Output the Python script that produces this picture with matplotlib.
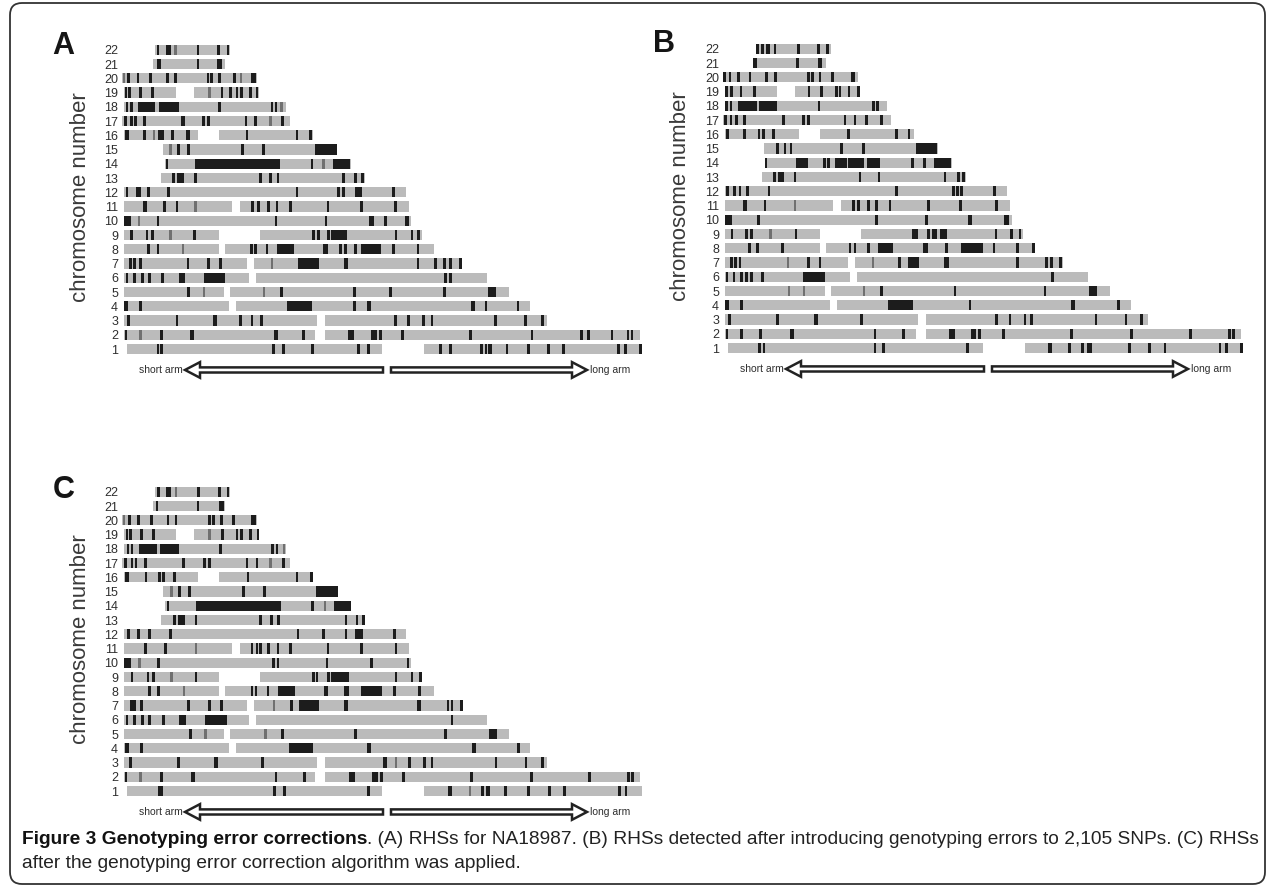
import matplotlib
matplotlib.use("Agg")
import matplotlib.pyplot as plt
from matplotlib.patches import FancyArrow, FancyBboxPatch

W, H = 1273, 888
NARROW = ['Liberation Sans Narrow', 'Liberation Sans', 'DejaVu Sans']
SANS = ['Liberation Sans', 'DejaVu Sans']

CHROMS = list(range(1, 23))

# grey SNP-covered segments per chromosome (position units, ~0.16 Mb each)
GRAY = {
    22: [(100, 325)], 21: [(92, 308)], 20: [(0, 405)], 19: [(5, 162), (215, 412)],
    18: [(5, 492)], 17: [(0, 505)], 16: [(5, 228), (292, 572)], 15: [(122, 645)],
    14: [(130, 688)], 13: [(118, 730)], 12: [(5, 852)], 11: [(5, 330), (355, 862)],
    10: [(5, 868)], 9: [(5, 290), (415, 900)], 8: [(5, 290), (308, 935)],
    7: [(5, 375), (395, 1020)], 6: [(5, 380), (402, 1095)], 5: [(5, 305), (325, 1160)],
    4: [(5, 322), (342, 1225)], 3: [(5, 585), (610, 1275)], 2: [(5, 580), (610, 1555)],
    1: [(15, 780), (905, 1560)],
}

# RHS marks: single number = narrow mark centre, tuple = block (start, end)
MARKS_A = {
    22: [108, (131, 146), 228, 290, 318],
    21: [(104, 116), 228, (284, 300)],
    20: [20, 48, 85, 137, 160, 258, 268, 292, 338, (388, 402)],
    19: [12, 22, 55, 92, 300, 325, 345, 358, 385, 405],
    18: [15, 28, (48, 100), (110, 170), 292, 450, 462],
    17: [10, 28, 40, 68, (176, 188), 245, 260, 372, 400, 482],
    16: [(9, 21), 68, 112, 122, 152, (193, 203), 375, 525, 565],
    15: [170, 200, 362, 425, (580, 645)],
    14: [135, (220, 475), 570, (632, 685)],
    13: [155, (165, 185), 220, 415, 445, 468, 665, 700, 722],
    12: [15, 45, 52, 80, 140, 525, 650, 665, (700, 720), 815],
    11: [(62, 74), 128, 165, 392, 410, 440, 465, 505, 618, 718, 820],
    10: [(5, 28), 108, 462, 612, (741, 755), 790, (850, 860)],
    9: [28, 75, 92, 218, 575, 590, 620, (628, 675), 822, 870, 890],
    8: [80, 108, 388, 400, 435, (465, 515), (603, 617), 655, 670, 700, (718, 778), 815, 888],
    7: [25, 38, 55, 198, 260, 295, (527, 590), (665, 679), 888, 940, 968, 985, 1015],
    6: [15, 38, 62, 82, 122, (170, 190), (245, 310), 970, 985],
    5: [200, 478, 698, 805, 968, (1098, 1122)],
    4: [(6, 18), 55, (495, 570), 698, (734, 746), (1046, 1058), 1092, 1188],
    3: [20, 165, (272, 284), 355, 390, 418, 820, 860, 905, 930, 1120, 1210, 1262],
    2: [12, 118, (204, 216), (456, 468), 545, (679, 697), (746, 764), 775, 842, 1045, 1230,
        1378, 1400, 1470, 1518, 1530],
    1: [108, 118, 455, 485, 572, 710, 740, 955, 985, 1078, 1092, (1099, 1111), 1155, 1220,
        1280, 1325, 1490, 1510, 1555],
}
LIGHT_A = {22: [160], 20: [5, 358], 19: [262], 18: [478], 17: [445], 16: [95], 15: [145],
           14: [605], 11: [220], 10: [50], 9: [145], 8: [182], 7: [450], 5: [245, 425], 2: [55]}

MARKS_B = {
    22: [104, 118, (130, 142), 156, 226, 286, 314],
    21: [(90, 102), 224, (284, 298)],
    20: [4, 21, 46, 81, 131, 158, 256, 268, 291, 328, (385, 397)],
    19: [11, 26, 54, 94, 258, 296, 341, 351, 378, 406],
    18: [11, 24, (46, 101), (108, 161), 288, 451, 464],
    17: [8, 24, 41, 64, 181, 241, 256, 366, 396, 431, 476],
    16: [14, 64, 108, 121, 151, 376, 521, 558],
    15: [164, 186, 204, 356, 421, (578, 641)],
    14: [129, (218, 254), 304, 316, (336, 371), (376, 424), (432, 471), 568, 604, (634, 684)],
    13: [154, (164, 184), 216, 411, 468, 666, 706, 721],
    12: [14, 34, 51, 74, 138, 521, 691, 704, 716, 814],
    11: [(60, 72), 126, 391, 406, 436, 461, 501, 616, 713, 821],
    10: [(5, 28), 106, 461, 611, (735, 747), (844, 858)],
    9: [27, 71, 86, 219, 571, 581, 616, (626, 643), (651, 673), 819, 866, 891],
    8: [79, 103, 179, 381, 396, 436, (466, 509), (599, 616), 671, (713, 781), 813, 883, 931],
    7: [25, 38, 51, 256, 291, 529, (556, 589), (664, 678), 883, 971, 986, 1013],
    6: [12, 33, 56, 71, 86, 119, (241, 306), 989],
    5: [476, 696, 966, (1099, 1123)],
    4: [(6, 18), 55, (496, 569), 741, (1045, 1057), 1186],
    3: [20, 163, (273, 285), 416, 821, 861, 906, 926, 1119, 1209, 1256],
    2: [12, 55, 113, (200, 212), 456, 541, (677, 695), (744, 758), 769, 841, 1046, 1226,
        1403, 1519, 1531],
    1: [109, 123, 456, 481, 734, (975, 987), 1039, 1079, (1092, 1106), 1219, 1279, 1326,
        1491, 1511, 1555],
}
LIGHT_B = {11: [216], 9: [143], 7: [196, 451], 5: [199, 243, 423]}

MARKS_C = {
    22: [110, (133, 147), 230, 292, 318],
    21: [105, 228, (291, 305)],
    20: [22, 50, 88, 138, 162, 262, 275, 298, 335, (388, 402)],
    19: [15, 25, 58, 95, 302, 345, 358, 385, 408],
    18: [18, 30, (50, 105), (115, 172), 295, 452, 465],
    17: [10, 30, 42, 70, 185, 248, 262, 375, 405, 485],
    16: [(9, 21), 72, 112, 125, 158, 378, 525, 568],
    15: [172, 202, 365, 428, (582, 648)],
    14: [138, (222, 478), 572, (635, 688)],
    13: [158, (168, 188), 222, 415, 448, 470, 672, 705, 725],
    12: [20, 50, 82, 145, 528, 605, 672, (700, 722), 818],
    11: [70, 130, 390, 405, 415, 440, 468, 505, 618, 718, 822],
    10: [(5, 28), 110, 455, 468, 615, 748, 858],
    9: [30, 78, 95, 222, 575, 585, 620, (628, 680), 822, 870, 895],
    8: [82, 110, 390, 402, 438, (468, 518), (605, 619), 670, 678, (718, 780), 818, 892],
    7: [28, 38, 58, 200, 262, 298, 508, (530, 592), (665, 679), (886, 898), 978, 990, 1018],
    6: [15, 38, 62, 82, 125, (172, 192), (248, 315), 990],
    5: [205, 482, 700, 970, (1100, 1125)],
    4: [(9, 21), 58, (500, 572), (736, 748), (1049, 1061), 1190],
    3: [25, 170, (276, 288), 422, (784, 796), 862, 908, 930, 1122, 1212, 1262],
    2: [12, 118, (206, 218), 462, 548, (681, 699), (749, 767), 778, 845, 1048, 1228, 1402,
        1520, 1532],
    1: [112, 120, 458, 488, 740, (979, 991), 1082, (1091, 1105), 1150, 1220, 1282, 1328,
        1492, 1512],
}
LIGHT_C = {22: [162], 20: [5], 19: [262], 18: [485], 17: [445], 15: [148], 14: [610],
           11: [222], 10: [52], 9: [148], 8: [185], 7: [455], 5: [250, 430], 3: [822], 2: [55],
           1: [1045]}

PANEL_LETTERS = ['A', 'B', 'C']
YLABEL = 'chromosome number'
ARM_LABELS = ('short arm', 'long arm')
ARROW_LEFT = (783, 189)    # tail, tip (position units)
ARROW_RIGHT = (807, 1395)

CAP_BOLD = 'Figure 3 Genotyping error corrections'
CAP_REST = ('. (A) RHSs for NA18987. (B) RHSs detected after introducing genotyping errors '
            'to 2,105 SNPs. (C) RHSs')
CAP_LINE2 = 'after the genotyping error correction algorithm was applied.'

GRAY_C = '#bbbbbb'
DARK_C = '#1c1c1c'
LIGHT_MC = '#707070'
TEXT_C = '#2e2e2e'

fig = plt.figure(figsize=(W / 100, H / 100), dpi=100)

XMIN, XMAX = -6, 1590
YMIN, YMAX = -1.2, 22.6
AX_W_PX = (XMAX - XMIN) / 3.0
ROW_PX = 14.25
AX_H_PX = (YMAX - YMIN) * ROW_PX
PANEL_POS = [(120, 41.2), (721, 40.2), (120, 483.2)]
LETTER_POS = [(63, 46), (664, 44), (64, 490)]


def to_bars(items, thin):
    out = []
    for m in items:
        if isinstance(m, tuple):
            out.append((m[0], m[1] - m[0]))
        else:
            out.append((m - thin / 2.0, thin))
    return out


def draw_panel(idx, marks, light):
    lpx, tpx = PANEL_POS[idx]
    ax = fig.add_axes([lpx / W, 1 - (tpx + AX_H_PX) / H, AX_W_PX / W, AX_H_PX / H])
    ax.set_xlim(XMIN, XMAX)
    ax.set_ylim(YMIN, YMAX)
    hgt = 0.72
    for c in CHROMS:
        ax.broken_barh(to_bars(GRAY[c], 0), (c - hgt / 2, hgt), facecolors=GRAY_C,
                       edgecolor='none', zorder=1)
        if c in light:
            ax.broken_barh(to_bars(light[c], 7), (c - hgt / 2, hgt), facecolors=LIGHT_MC,
                           edgecolor='none', zorder=2)
        ax.broken_barh(to_bars(marks.get(c, []), 8.5), (c - hgt / 2, hgt), facecolors=DARK_C,
                       edgecolor='none', zorder=3)
    for s in ax.spines.values():
        s.set_visible(False)
    ax.set_xticks([])
    ax.set_yticks(CHROMS)
    ax.set_yticklabels([str(c) for c in CHROMS], fontsize=9, family=NARROW, color=TEXT_C)
    ax.tick_params(axis='y', length=0, pad=1.4)
    ax.patch.set_alpha(0)

    ya = -0.47
    for (tail, tip) in (ARROW_LEFT, ARROW_RIGHT):
        ax.add_patch(FancyArrow(tail, ya, tip - tail, 0, width=0.36, head_width=1.1,
                                head_length=45, length_includes_head=True, fc='white',
                                ec='#222222', lw=1.8, zorder=4, clip_on=False))
    ax.text(ARROW_LEFT[1] - 8, ya, ARM_LABELS[0], ha='right', va='center', fontsize=7.5,
            family=NARROW, color=TEXT_C)
    ax.text(ARROW_RIGHT[1] + 8, ya, ARM_LABELS[1], ha='left', va='center', fontsize=7.5,
            family=NARROW, color=TEXT_C)

    ylx = (LETTER_POS[idx][0] + 17 - lpx) / AX_W_PX
    yly = 1 - (197 - 41.2) / AX_H_PX
    ax.text(ylx, yly, YLABEL, rotation=90, ha='center', va='center', fontsize=16,
            family=SANS, color='#3a3a3a', transform=ax.transAxes)
    lx, ly = LETTER_POS[idx]
    fig.text(lx / W, 1 - ly / H, PANEL_LETTERS[idx], ha='center', va='center',
             fontsize=22, fontweight='heavy', family=SANS, color='#151515')
    return ax


draw_panel(0, MARKS_A, LIGHT_A)
draw_panel(1, MARKS_B, LIGHT_B)
draw_panel(2, MARKS_C, LIGHT_C)

# caption
fs = 12.0
x0 = 22 / W
t1 = fig.text(x0, 1 - 844 / H, CAP_BOLD, fontsize=fs, fontweight='bold', family=NARROW,
              color='#111111', va='baseline')
t2 = fig.text(x0, 1 - 844 / H, CAP_REST, fontsize=fs, family=NARROW, color='#222222',
              va='baseline')
t3 = fig.text(x0, 1 - 868 / H, CAP_LINE2, fontsize=fs, family=NARROW, color='#222222',
              va='baseline')
target = 1262 - 22
for _ in range(3):
    fig.canvas.draw()
    r = fig.canvas.get_renderer()
    w1 = t1.get_window_extent(r).width
    w2 = t2.get_window_extent(r).width
    fs = fs * target / (w1 + w2)
    for t in (t1, t2, t3):
        t.set_fontsize(fs)
    fig.canvas.draw()
    w1 = t1.get_window_extent(r).width
    t2.set_x((22 + w1) / W)

fig.patches.append(FancyBboxPatch((0.10, 0.04), 12.55, 8.81,
                                  boxstyle='round,pad=0,rounding_size=0.12',
                                  transform=fig.dpi_scale_trans, fill=False,
                                  ec='#333333', lw=1.3))

fig.savefig('out.png', dpi=100)
